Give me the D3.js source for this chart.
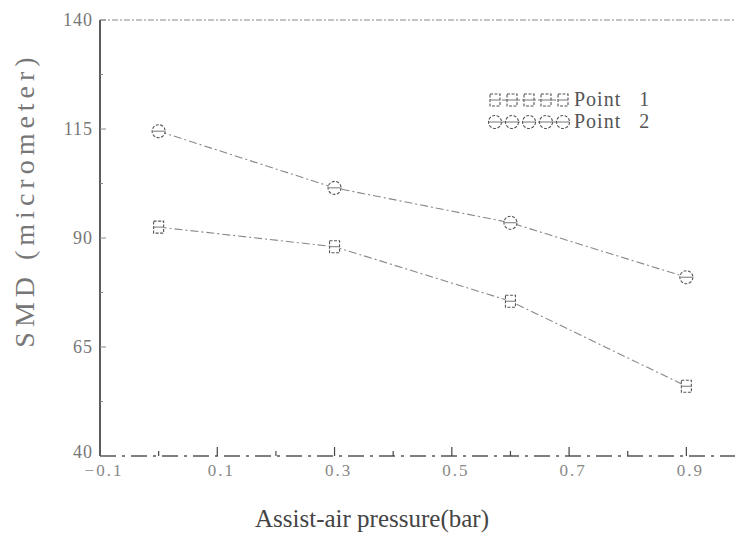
<!DOCTYPE html>
<html>
<head>
<meta charset="utf-8">
<script src="https://cdn.jsdelivr.net/npm/d3@7"></script>
<style>
  body { margin: 0; background: #fff; }
  svg text { font-family: "Liberation Serif", serif; }
</style>
</head>
<body>
<script>
// data
const pressure = [0, 0.3, 0.6, 0.9];
const point1 = [92.5, 88, 75.5, 56];
const point2 = [114.5, 101.5, 93.5, 81];
const xTicks = [-0.1, 0.1, 0.3, 0.5, 0.7, 0.9];
const yTicks = [40, 65, 90, 115, 140];
const seriesNames = ["Point   1", "Point   2"];

const W = 737, H = 539;
const svg = d3.select("body").append("svg").attr("width", W).attr("height", H);

const x = d3.scaleLinear().domain([-0.1, 1.0]).range([100, 745]);
const y = d3.scaleLinear().domain([40, 140]).range([456, 20]);

/* ** FRAME ** */
// top dashed line
svg.append("line").attr("x1", 100).attr("x2", 735).attr("y1", y(140)).attr("y2", y(140))
  .attr("stroke", "#888").attr("stroke-width", 1).attr("stroke-dasharray", "6,2,2,2");
// bottom dashed line
svg.append("line").attr("x1", 100).attr("x2", 735).attr("y1", y(40)).attr("y2", y(40))
  .attr("stroke", "#555").attr("stroke-width", 1.3).attr("stroke-dasharray", "16,6,3,6");
// left axis
svg.append("line").attr("x1", 100).attr("x2", 100).attr("y1", y(140)).attr("y2", y(40))
  .attr("stroke", "#333").attr("stroke-width", 1.6);

/* ** TICKS ** */
const xAll = d3.range(0, 10).map(i => i * 0.1);
svg.selectAll(".xt").data(xAll).enter().append("line").attr("class", "xt")
  .attr("x1", d => x(d)).attr("x2", d => x(d))
  .attr("y1", y(40)).attr("y2", (d, i) => y(40) - (i % 2 === 1 ? 9 : 5))
  .attr("stroke", "#444").attr("stroke-width", 1.2);

const yAll = d3.range(0, 9).map(i => 40 + i * 12.5);
svg.selectAll(".yt").data(yAll).enter().append("line").attr("class", "yt")
  .attr("x1", 100).attr("x2", (d, i) => 100 + (i % 2 === 0 ? 6 : 3))
  .attr("y1", d => y(d)).attr("y2", d => y(d))
  .attr("stroke", "#888").attr("stroke-width", 1);

svg.selectAll(".yl").data(yTicks).enter().append("text").attr("class", "yl")
  .attr("x", 93).attr("y", d => y(d) + (d === 40 ? 2 : 6))
  .attr("text-anchor", "end").attr("font-size", 18).attr("letter-spacing", 1)
  .attr("fill", "#777").text(d => d);

svg.selectAll(".xl").data(xTicks).enter().append("text").attr("class", "xl")
  .attr("x", d => x(d) + 4).attr("y", y(40) + 20)
  .attr("text-anchor", "middle").attr("font-size", 17).attr("letter-spacing", 2)
  .attr("fill", "#888").text(d => d3.format(".1f")(d));

/* ** AXIS TITLES ** */
svg.append("text").attr("transform", "translate(34,200) rotate(-90)")
  .attr("text-anchor", "middle").attr("font-size", 28).attr("letter-spacing", 5)
  .attr("fill", "#777").text("SMD (micrometer)");

svg.append("text").attr("x", 372).attr("y", 527).attr("text-anchor", "middle")
  .attr("font-size", 25).attr("fill", "#444").text("Assist-air pressure(bar)");

/* ** SERIES ** */
const line = d3.line().x(d => x(d[0])).y(d => y(d[1]));
const s1 = pressure.map((p, i) => [p, point1[i]]);
const s2 = pressure.map((p, i) => [p, point2[i]]);

function drawLine(data) {
  svg.append("path").datum(data).attr("d", line).attr("fill", "none")
    .attr("stroke", "#888").attr("stroke-width", 1.1).attr("stroke-dasharray", "8,3,2,3");
}
function square(g, cx, cy) {
  g.append("rect").attr("x", cx - 5).attr("y", cy - 6).attr("width", 10).attr("height", 12)
    .attr("fill", "#fff").attr("stroke", "#555").attr("stroke-width", 1.1).attr("stroke-dasharray", "3,1.5");
  g.append("line").attr("x1", cx - 5).attr("x2", cx + 5).attr("y1", cy).attr("y2", cy)
    .attr("stroke", "#777").attr("stroke-width", 1);
}
function circle(g, cx, cy) {
  g.append("circle").attr("cx", cx).attr("cy", cy).attr("r", 6.5)
    .attr("fill", "#fff").attr("stroke", "#555").attr("stroke-width", 1.1).attr("stroke-dasharray", "3,1.5");
  g.append("line").attr("x1", cx - 6).attr("x2", cx + 6).attr("y1", cy).attr("y2", cy)
    .attr("stroke", "#777").attr("stroke-width", 1);
}

drawLine(s1);
drawLine(s2);
const marks = svg.append("g");
s1.forEach(d => square(marks, x(d[0]), y(d[1])));
s2.forEach(d => circle(marks, x(d[0]), y(d[1])));

/* ** LEGEND ** */
const leg = svg.append("g");
[0, 1].forEach(k => {
  const ly = 100 + k * 22;
  leg.append("line").attr("x1", 490).attr("x2", 568).attr("y1", ly).attr("y2", ly)
    .attr("stroke", "#777").attr("stroke-width", 1).attr("stroke-dasharray", "6,2,2,2");
  d3.range(5).forEach(j => {
    const cx = 495 + j * 17;
    if (k === 0) square(leg, cx, ly); else circle(leg, cx, ly);
  });
  leg.append("text").attr("x", 574).attr("y", ly + 6).attr("font-size", 20)
    .attr("letter-spacing", 1).attr("fill", "#555").style("white-space", "pre")
    .text(seriesNames[k]);
});
</script>
</body>
</html>
